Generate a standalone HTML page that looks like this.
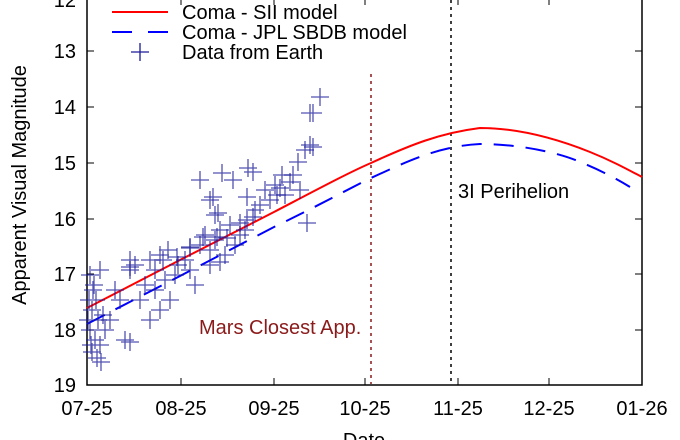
<!DOCTYPE html>
<html><head><meta charset="utf-8"><style>
body{margin:0;background:#fff;}
svg{display:block;font-family:"Liberation Sans",sans-serif;}
</style></head><body>
<svg width="680" height="440" viewBox="0 0 680 440" xmlns="http://www.w3.org/2000/svg">
<rect width="680" height="440" fill="#fff"/>
<g stroke="#000" stroke-width="1" fill="none">
<rect x="87" y="-10" width="555" height="395" stroke-width="1.5"/>
<path d="M87 51h7M87 107h7M87 163h7M87 219h7M87 274h7M87 330h7
M642 51h-7M642 107h-7M642 163h-7M642 219h-7M642 274h-7M642 330h-7
M181 385v-7M274 385v-7M365 385v-7M458 385v-7M549 385v-7
M181 0v5M274 0v5M365 0v5M458 0v5M549 0v5"/>
</g>
<g font-size="20" text-anchor="end" fill="#000">
<text x="76" y="7">12</text><text x="76" y="58">13</text><text x="76" y="114">14</text>
<text x="76" y="170">15</text><text x="76" y="226">16</text><text x="76" y="281">17</text>
<text x="76" y="337">18</text><text x="76" y="392">19</text>
</g>
<g font-size="20" text-anchor="middle" fill="#000">
<text x="87" y="415">07-25</text><text x="181" y="415">08-25</text><text x="274" y="415">09-25</text>
<text x="365" y="415">10-25</text><text x="458" y="415">11-25</text><text x="549" y="415">12-25</text>
<text x="642" y="415">01-26</text>
<text x="364" y="447">Date</text>
<text transform="translate(26,185) rotate(-90)">Apparent Visual Magnitude</text>
</g>
<line x1="371" y1="74" x2="371" y2="384" stroke="#8b1a1a" stroke-width="1.5" stroke-dasharray="3,4"/>
<line x1="451" y1="0" x2="451" y2="384" stroke="#000" stroke-width="1.5" stroke-dasharray="3,4"/>
<text x="199" y="334" font-size="20" fill="#8b1a1a">Mars Closest App.</text>
<text x="458" y="198" font-size="20" fill="#000">3I Perihelion</text>
<path d="M87 308 L180 260 L274 212 C320 188 350 172 371 163 C410 145 440 133 480 128 C520 128 560 140 590 152 C610 160 625 168 642 177" stroke="#f00" stroke-width="2" fill="none"/>
<path d="M87 324 L180 276 L274 227 C320 205 350 188 371 178 C410 160 440 146 480 144 C520 144 560 153 580 162 C600 170 615 178 630 187" stroke="#00f" stroke-width="2" fill="none" stroke-dasharray="20,12"/>
<g stroke="#1a1a99" stroke-opacity="0.75" stroke-width="1.3" fill="none">
<path d="M81 275h18M90 266v18M84 290h18M93 281v18M87 300h18M96 291v18M83 310h18M92 301v18M89 320h18M98 311v18M81 330h18M90 321v18M86 340h18M95 331v18M91 345h18M100 336v18M83 352h18M92 343v18M88 358h18M97 349v18M92 362h18M101 353v18M80 300h18M89 291v18M85 285h18M94 276v18M91 270h18M100 261v18M96 330h18M105 321v18M94 315h18M103 306v18M79 320h18M88 311v18M82 345h18M91 336v18"/>
<path d="M106 290h18M115 281v18M116 340h18M125 331v18M121 342h18M130 333v18M131 300h18M140 291v18M126 265h18M135 256v18M121 270h18M130 261v18M111 300h18M120 291v18M101 320h18M110 311v18"/>
<path d="M141 260h18M150 251v18M146 270h18M155 261v18M151 255h18M160 246v18M136 285h18M145 276v18M156 280h18M165 271v18M161 300h18M170 291v18M166 275h18M175 266v18M151 310h18M160 301v18M141 320h18M150 311v18M169 265h18M178 256v18M159 250h18M168 241v18M146 290h18M155 281v18"/>
<path d="M181 270h18M190 261v18M191 245h18M200 236v18M201 250h18M210 241v18M196 235h18M205 226v18M211 230h18M220 221v18M206 240h18M215 231v18M216 255h18M225 246v18M186 285h18M195 276v18M221 225h18M230 216v18M176 260h18M185 251v18M201 265h18M210 256v18M191 180h18M200 171v18M201 200h18M210 191v18M206 215h18M215 206v18M181 248h18M190 239v18M231 235h18M240 226v18"/>
<path d="M311 97h18M320 88v18M301 113h18M310 104v18M304 113h18M313 104v18M301 145h18M310 136v18M304 147h18M313 138v18M289 162h18M298 153v18M284 175h18M293 166v18M271 188h18M280 179v18M268 195h18M277 186v18M244 172h18M253 163v18M239 168h18M248 159v18M224 180h18M233 171v18M213 173h18M222 164v18M204 197h18M213 188v18M209 213h18M218 204v18M238 197h18M247 188v18M238 220h18M247 211v18M244 217h18M253 208v18M231 223h18M240 214v18M298 223h18M307 214v18M211 262h18M220 253v18M208 237h18M217 228v18M218 238h18M227 229v18M194 237h18M203 228v18M181 247h18M190 238v18M168 257h18M177 248v18M154 260h18M163 251v18M121 260h18M130 251v18M121 267h18M130 258v18"/>
<path d="M256 190h18M265 181v18M261 200h18M270 191v18M266 185h18M275 176v18M273 175h18M282 166v18M276 195h18M285 186v18M281 182h18M290 173v18M251 205h18M260 196v18M246 210h18M255 201v18M291 190h18M300 181v18M296 150h18M305 141v18M236 230h18M245 221v18M226 245h18M235 236v18"/>
</g>
<g font-size="20" fill="#000">
<line x1="112" y1="12" x2="168" y2="12" stroke="#f00" stroke-width="2"/>
<text x="182" y="19">Coma - SII model</text>
<line x1="112" y1="32" x2="168" y2="32" stroke="#00f" stroke-width="2" stroke-dasharray="20,16"/>
<text x="182" y="39">Coma - JPL SBDB model</text>
<path d="M131 52h18M140 43v18" stroke="#1a1a99" stroke-width="1.3"/>
<text x="182" y="59">Data from Earth</text>
</g>
</svg>
</body></html>
